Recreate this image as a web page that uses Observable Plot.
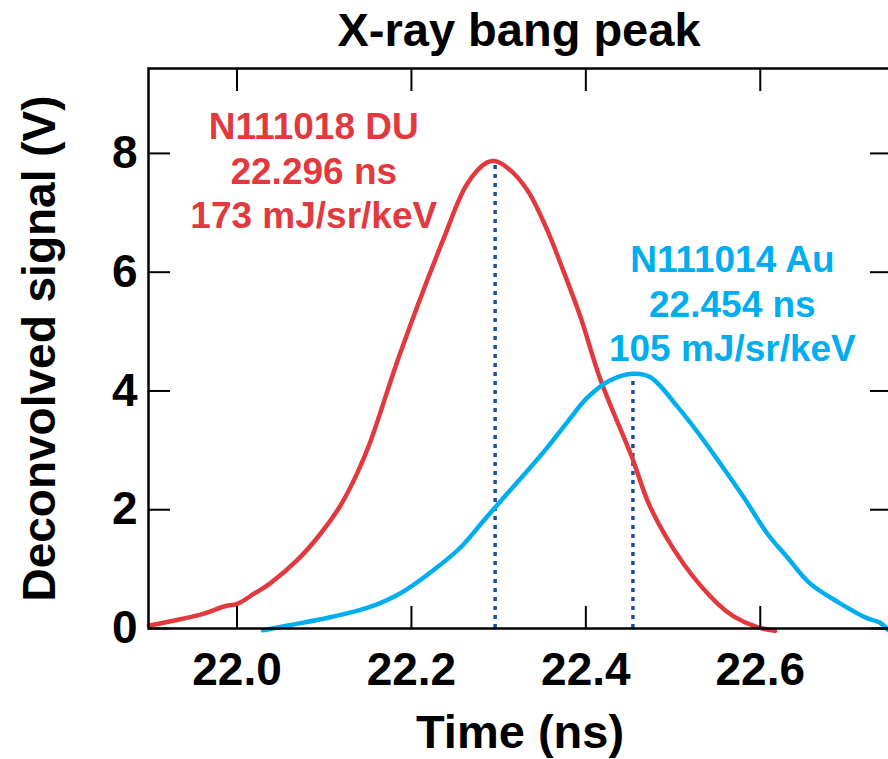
<!DOCTYPE html>
<html>
<head>
<meta charset="utf-8">
<script src="https://cdn.jsdelivr.net/npm/d3@7"></script>
<script src="https://cdn.jsdelivr.net/npm/@observablehq/plot@0.6"></script>
<style>
  html, body { margin: 0; padding: 0; background: white; }
  body { width: 888px; height: 759px; overflow: hidden; font-family: "Liberation Sans", Arial, Helvetica, sans-serif; }
  #title { height: 60px; box-sizing: border-box; padding-top: 6px; padding-left: 150px; width: 888px;
           text-align: center; font-size: 47px; font-weight: bold; line-height: 1; color: #000; }
</style>
</head>
<body>
<div id="title"></div>
<div id="chart"></div>
<script>
// ---- data ----
const titleText = "X-ray bang peak";
const xLabel = "Time (ns)";
const yLabel = "Deconvolved signal (V)";
const xTicks = [22.0, 22.2, 22.4, 22.6];
const yTicks = [0, 2, 4, 6, 8];

// N111018 DU (red)
const duTime   = [21.899, 21.930, 21.962, 21.985, 22.001, 22.020, 22.038, 22.069, 22.096, 22.119, 22.138, 22.153, 22.187, 22.236, 22.264, 22.287, 22.296, 22.310, 22.333, 22.356, 22.374, 22.394, 22.417, 22.453, 22.474, 22.512, 22.551, 22.570, 22.595, 22.617];
const duSignal = [0.05, 0.14, 0.25, 0.37, 0.42, 0.59, 0.76, 1.15, 1.60, 2.08, 2.62, 3.15, 4.63, 6.53, 7.49, 7.85, 7.87, 7.76, 7.38, 6.70, 6.03, 5.24, 4.18, 2.88, 2.04, 1.09, 0.42, 0.20, 0.03, -0.04];

// N111014 Au (blue)
const auTime   = [22.030, 22.058, 22.107, 22.150, 22.187, 22.225, 22.256, 22.283, 22.302, 22.325, 22.356, 22.379, 22.402, 22.428, 22.454, 22.474, 22.506, 22.531, 22.554, 22.581, 22.608, 22.631, 22.657, 22.692, 22.723, 22.737, 22.747];
const auSignal = [-0.03, 0.05, 0.19, 0.35, 0.59, 0.98, 1.36, 1.82, 2.14, 2.52, 3.05, 3.48, 3.89, 4.18, 4.29, 4.23, 3.72, 3.25, 2.78, 2.21, 1.60, 1.20, 0.76, 0.42, 0.17, 0.10, -0.03];

// shot annotations
const shotNames   = ["N111018 DU", "N111014 Au"];
const peakTimes   = [22.296, 22.454];
const peakSignals = [7.87, 4.29];
const yields      = ["173 mJ/sr/keV", "105 mJ/sr/keV"];
const labelTimes  = [22.088, 22.568];
const labelSignal = [8.77, 6.53];

// ---- build ----
const RED = "#e2393f";
const BLUE = "#00aeef";
const DOT = "#1b4f9e";
const colors = [RED, BLUE];

document.getElementById("title").textContent = titleText;

const du = duTime.map((t, i) => ({t, v: duSignal[i]}));
const au = auTime.map((t, i) => ({t, v: auSignal[i]}));
const shots = shotNames.map((name, i) => ({
  name, t: peakTimes[i], v: peakSignals[i], color: colors[i],
  text: `${name}\n${peakTimes[i].toFixed(3)} ns\n${yields[i]}`,
  lx: labelTimes[i], ly: labelSignal[i]
}));

const chart = Plot.plot({
  width: 888,
  height: 699,
  marginLeft: 148,
  marginRight: -3,
  marginTop: 8,
  marginBottom: 131,
  style: { fontFamily: '"Liberation Sans", Arial, Helvetica, sans-serif', fontWeight: "bold", fontSize: "46px", color: "#000", background: "white", overflow: "visible" },
  x: { domain: [21.8985, 22.7505] },
  y: { domain: [0, 9.43] },
  marks: [
    Plot.ruleX(shots, { x: "t", y1: 0, y2: "v", stroke: DOT, strokeWidth: 3.5, strokeDasharray: "4,5" }),
    Plot.line(du, { x: "t", y: "v", stroke: RED, strokeWidth: 4.5, curve: "catmull-rom" }),
    Plot.line(au, { x: "t", y: "v", stroke: BLUE, strokeWidth: 4.5, curve: "catmull-rom" }),
    Plot.frame({ stroke: "black", strokeWidth: 2.5 }),
    Plot.axisX({ anchor: "bottom", ticks: xTicks, tickFormat: d3.format(".1f"), tickSize: -22, tickPadding: 46, strokeWidth: 2, label: null, fontSize: 46, fontWeight: "bold" }),
    Plot.axisX({ anchor: "top", ticks: xTicks, tickFormat: () => "", tickSize: -22, strokeWidth: 2, label: null }),
    Plot.axisY({ anchor: "left", ticks: yTicks, tickFormat: d3.format("d"), tickSize: -22, tickPadding: 33, strokeWidth: 2, label: null, fontSize: 46, fontWeight: "bold" }),
    Plot.axisY({ anchor: "right", ticks: yTicks, tickFormat: () => "", tickSize: -22, strokeWidth: 2, label: null }),
    Plot.text(shots, { x: "lx", y: "ly", text: "text", fill: "color", fontSize: 37, fontWeight: "bold", lineAnchor: "top", lineHeight: 1.2, textAnchor: "middle" }),
    Plot.text([xLabel], { frameAnchor: "bottom", dy: 119, lineAnchor: "bottom", textAnchor: "middle", fontSize: 47, fontWeight: "bold", fill: "black" }),
    Plot.text([yLabel], { frameAnchor: "left", rotate: -90, dx: -108, textAnchor: "middle", lineAnchor: "middle", fontSize: 46, fontWeight: "bold", fill: "black" })
  ]
});
document.getElementById("chart").appendChild(chart);
</script>
</body>
</html>
